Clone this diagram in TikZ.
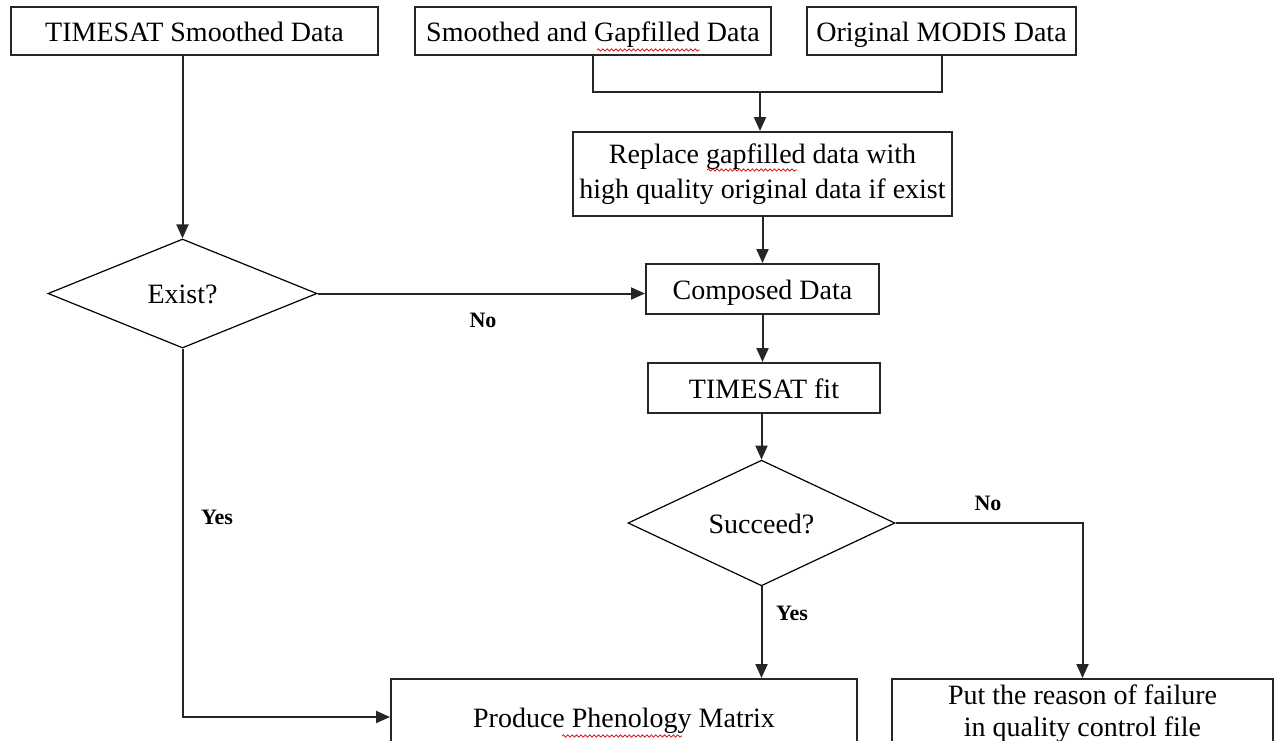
\documentclass[tikz,border=0pt]{standalone}
\usepackage{fontspec}
\setmainfont{Liberation Serif}
\usetikzlibrary{shapes.geometric,arrows.meta,decorations.pathmorphing}
\begin{document}
\begin{tikzpicture}[x=0.5pt,y=-0.5pt,
  box/.style={draw=black!85, line width=1pt, rectangle, inner sep=0pt, font=\fontsize{14}{17.5}\selectfont, align=center},
  onel/.style={text height=10pt, text depth=0pt},
  dia/.style={draw=black, line width=0.6pt, diamond, inner sep=0pt, font=\fontsize{14}{17}\selectfont, text height=10pt, text depth=0pt},
  lbl/.style={font=\fontsize{11}{13}\selectfont\bfseries, inner sep=0pt},
  conn/.style={line width=1pt, draw=black!85},
  arr/.style={line width=1pt, draw=black!85, -{Triangle[length=7pt,width=6pt]}},
  squig/.style={draw=red!80!black, line width=0.35pt, decorate, decoration={snake, segment length=2.2pt, amplitude=0.6pt}}]
\path[use as bounding box] (0,0) rectangle (1274,740);
\clip (0,0) rectangle (1274,740);
\fill[white] (0,0) rectangle (1274,740);
% boxes
\node[box, onel, minimum width=183.5pt, minimum height=24pt] (b1) at (194.5,31) {TIMESAT Smoothed Data};
\node[box, onel, minimum width=178pt, minimum height=24pt] (b2) at (593,31) {Smoothed and Gapfilled Data};
\node[box, onel, minimum width=134.5pt, minimum height=24pt] (b3) at (941.5,31) {Original MODIS Data};
\node[box, minimum width=189.5pt, minimum height=42pt] (b4) at (762.5,174) {Replace gapfilled data with\\high quality original data if exist};
\node[box, onel, minimum width=116.5pt, minimum height=25pt] (b5) at (762.5,289) {Composed Data};
\node[box, onel, minimum width=116pt, minimum height=25pt] (b6) at (764,388) {TIMESAT fit};
\node[box, onel, minimum width=233pt, minimum height=38pt] (b7) at (624,717) {Produce Phenology Matrix};
\node[box, minimum width=190.5pt, minimum height=38pt] (b8) at (1082.5,717) {};
\node[font=\fontsize{14}{16}\selectfont, align=center, inner sep=0pt, anchor=north] (b8t) at (1082.5,684) {Put the reason of failure\\in quality control file};
% spell-check underlines
\draw[squig] (597,50) -- (700,50);
\draw[squig] (707,170) -- (797,170);
\draw[squig] (562,736) -- (682,736);
% diamonds
\node[dia, minimum width=134.5pt, minimum height=54.5pt] (d1) at (182.5,293.5) {Exist?};
\node[dia, minimum width=133.5pt, minimum height=55pt] (d2) at (761.5,523) {Succeed?};
% labels
\node[lbl] (no1) at (483,320) {No};
\node[lbl] (yes1) at (217,517) {Yes};
\node[lbl] (no2) at (988,503) {No};
\node[lbl] (yes2) at (792,613) {Yes};
% connectors
\coordinate (j) at (760,92);
\draw[arr] (d1.north |- b1.south) -- (d1.north);
\draw[conn] (b2.south) |- (j) -| (b3.south);
\draw[arr] (j) -- (j |- b4.north);
\draw[arr] (b4.south) -- (b5.north);
\draw[arr] (d1.east) -- (d1.east -| b5.west);
\draw[arr] (b5.south) -- (b5.south |- b6.north);
\draw[arr] (d2.north |- b6.south) -- (d2.north);
\draw[arr] (d2.south) -- (d2.south |- b7.north);
\draw[arr] (d2.east) -| (b8.north);
\draw[arr] (d1.south) |- (b7.west);
\end{tikzpicture}
\end{document}
